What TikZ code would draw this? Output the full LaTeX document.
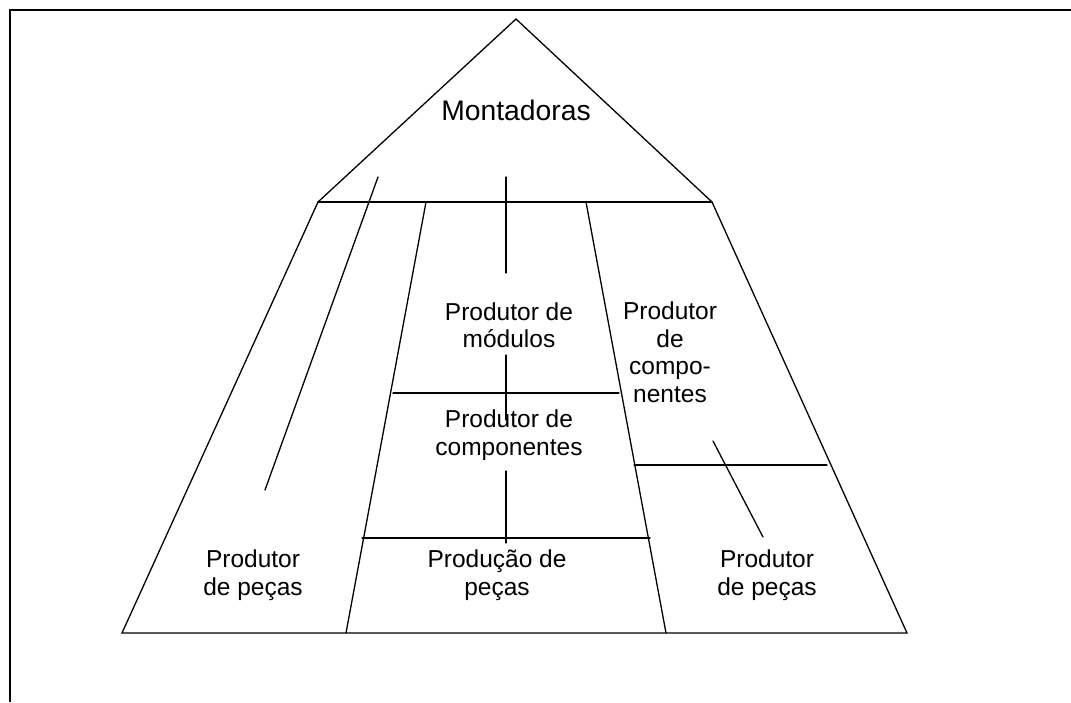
\documentclass[tikz,border=0pt]{standalone}
\usepackage{fontspec}
\setmainfont{Liberation Sans}
\begin{document}
\begin{tikzpicture}[x=1pt,y=-1pt,
  part/.style={line width=1.3pt,line cap=round},
  frame/.style={line width=2pt},
  lbl/.style={align=center,inner sep=0pt,font=\fontsize{24.5}{27.5}\selectfont},
  big/.style={inner sep=0pt,font=\fontsize{28.3}{32}\selectfont}]
\useasboundingbox (0,0) rectangle (1071,702);
% page frame
\draw[frame] (10,702) -- (10,10) -- (1071,10);
% outline of the pyramid
\coordinate (apex) at (516,19);
\coordinate (tl) at (318,202);
\coordinate (tr) at (712,202);
\coordinate (bl) at (122,633);
\coordinate (br) at (907,633);
\draw[part] (tl) -- (apex) -- (tr);
\draw[part] (tl) -- (tr);
\draw[part] (tl) -- (bl) -- (br) -- (tr);
% inner columns
\coordinate (il1) at (426,202);
\coordinate (il2) at (346,633);
\coordinate (ir1) at (586,202);
\coordinate (ir2) at (666,633);
\draw[part] (il1) -- (il2);
\draw[part] (ir1) -- (ir2);
% layers of the middle column
\draw[part] (393,393) -- (619,393);
\draw[part] (362,538) -- (650,538);
% layer of the right column
\draw[part] (634,465) -- (827,465);
% links between the layers
\draw[part] (506,177) -- (506,273);
\draw[part] (506,355) -- (506,420);
\draw[part] (506,471) -- (506,543);
\draw[part] (378,177) -- (265,490);
\draw[part] (713,441) -- (763,537);
% labels
\node[big] (mont) at (516,110) {Montadoras};
\node[lbl] (mod) at (509,325) {Produtor de\\m\'odulos};
\node[lbl] (compm) at (509,435) {Produtor de\\componentes};
\node[lbl] (prod) at (497,575) {Produ\c{c}\~ao de\\pe\c{c}as};
\node[lbl] (pecl) at (253,575) {Produtor\\de pe\c{c}as};
\node[lbl] (pecr) at (767,575) {Produtor\\de pe\c{c}as};
\node[lbl] (compr) at (670,352) {Produtor\\de\\compo-\\nentes};
\end{tikzpicture}
\end{document}
